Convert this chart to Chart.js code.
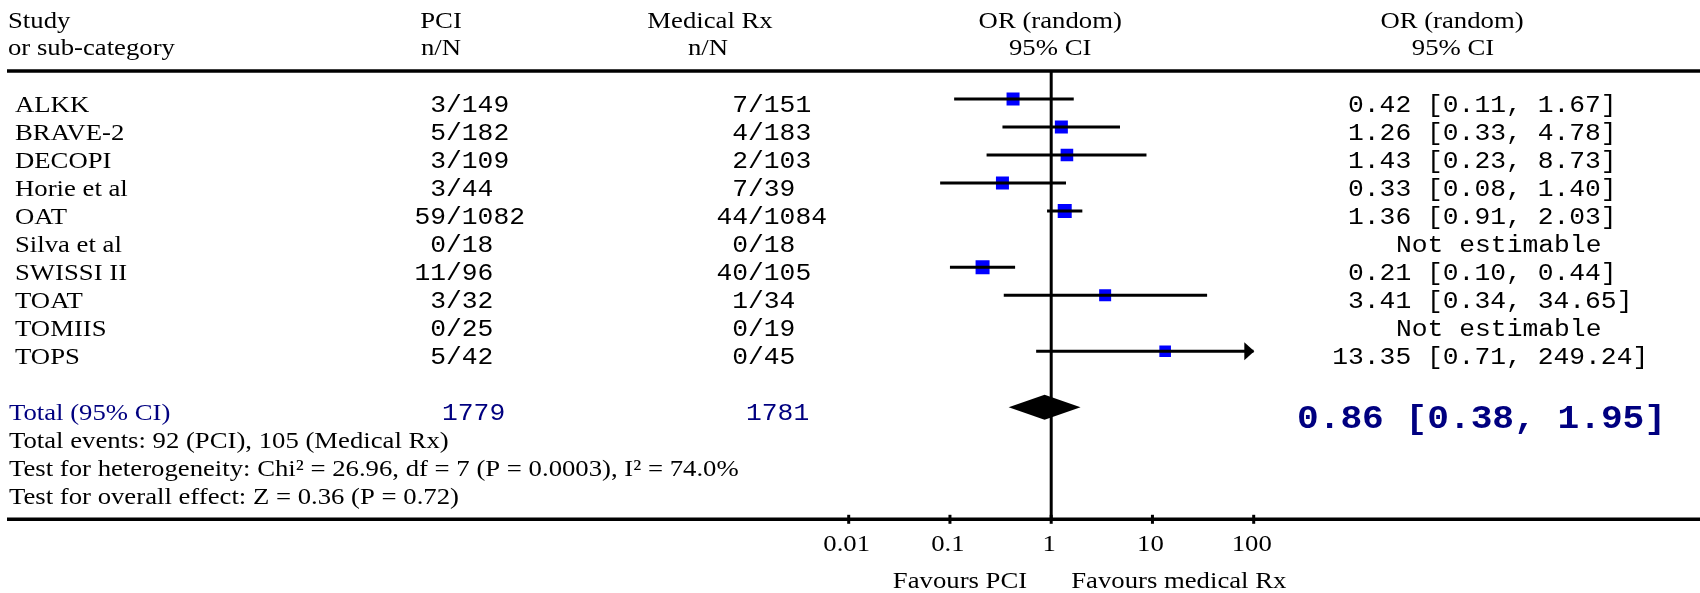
<!DOCTYPE html>
<html><head><meta charset="utf-8">
<script src="https://cdn.jsdelivr.net/npm/chart.js@4.4.1/dist/chart.umd.min.js"></script>
<style>html,body{margin:0;padding:0;background:#fff;}#wrap{width:1700px;height:593px;position:relative;}</style>
</head><body><div id="wrap"><canvas id="c" width="1700" height="593"></canvas></div>
<script>
// ---------------- DATA ----------------
const studies   = ['ALKK','BRAVE-2','DECOPI','Horie et al','OAT','Silva et al','SWISSI II','TOAT','TOMIIS','TOPS'];
const pciEvents = [3, 5, 3, 3, 59, 0, 11, 3, 0, 5];
const pciTotal  = [149, 182, 109, 44, 1082, 18, 96, 32, 25, 42];
const medEvents = [7, 4, 2, 7, 44, 0, 40, 1, 0, 0];
const medTotal  = [151, 183, 103, 39, 1084, 18, 105, 34, 19, 45];
const orValue   = [0.42, 1.26, 1.43, 0.33, 1.36, null, 0.21, 3.41, null, 13.35];
const ciLow     = [0.11, 0.33, 0.23, 0.08, 0.91, null, 0.10, 0.34, null, 0.71];
const ciHigh    = [1.67, 4.78, 8.73, 1.40, 2.03, null, 0.44, 34.65, null, 249.24];
const totalN    = [1779, 1781];
const totalOR   = 0.86, totalLow = 0.38, totalHigh = 1.95;
const tickValues = [0.01, 0.1, 1, 10, 100];
const tickLabels = ['0.01', '0.1', '1', '10', '100'];
const nullEffect = 1;
const footLines = [
  'Total events: 92 (PCI), 105 (Medical Rx)',
  'Test for heterogeneity: Chi\u00B2 = 26.96, df = 7 (P = 0.0003), I\u00B2 = 74.0%',
  'Test for overall effect: Z = 0.36 (P = 0.72)'
];

// ---------------- STYLE ----------------
const markerSide = [13, 13, 12.6, 13, 14, 0, 14, 12, 0, 11.6];
const SERIF = '23.5px "Liberation Serif", "Times New Roman", serif', SX_SERIF = 1.137;
const MONO = '23px "Liberation Mono", "Courier New", monospace', SX_MONO = 1.145;
const BOLD = 'bold 32.5px "Liberation Mono", "Courier New", monospace', SX_BOLD = 1.113;
const NAVY = '#000080';
const X_MIN = tickValues[0], X_MAX = tickValues[tickValues.length - 1];
const TOTAL_ROW = studies.length + 1;
const BOTTOM_ROW = TOTAL_ROW + footLines.length + 1;

function fmt(v){ return v.toFixed(2); }
function txt(ctx, s, x, y, font, color, align, sx){
  ctx.save(); ctx.translate(x, y); ctx.scale(sx, 1);
  ctx.font = font; ctx.fillStyle = color; ctx.textAlign = align; ctx.textBaseline = 'alphabetic';
  ctx.fillText(s, 0, 0); ctx.restore();
}

// ---------------- DATASETS ----------------
const datasets = [];
datasets.push({data:[{x:nullEffect,y:-1},{x:nullEffect,y:BOTTOM_ROW}], showLine:true, borderColor:'#000', borderWidth:3, pointRadius:0});
studies.forEach((s, i) => {
  if (orValue[i] == null) return;
  datasets.push({data:[{x:ciLow[i],y:i},{x:Math.min(ciHigh[i], X_MAX),y:i}], showLine:true,
    borderColor:'#000', borderWidth:3, pointRadius:0, borderCapStyle:'butt'});
});
datasets.push({
  data: studies.map((s, i) => orValue[i] == null ? null : {x:orValue[i], y:i, i:i}).filter(Boolean),
  pointStyle:'rect', backgroundColor:'#0000ff', borderWidth:0,
  pointRadius: c => (c.raw ? markerSide[c.raw.i] : 12) / Math.SQRT2
});

const forestPlugin = {
  id:'forest',
  afterDatasetsDraw(chart){
    const ctx = chart.ctx, xs = chart.scales.x, ys = chart.scales.y;
    const yc = ys.getPixelForValue(TOTAL_ROW);
    ctx.save(); ctx.fillStyle = '#000'; ctx.beginPath();
    ctx.moveTo(xs.getPixelForValue(totalLow), yc);
    ctx.lineTo(xs.getPixelForValue(totalOR), yc - 12.5);
    ctx.lineTo(xs.getPixelForValue(totalHigh), yc);
    ctx.lineTo(xs.getPixelForValue(totalOR), yc + 12.5);
    ctx.closePath(); ctx.fill(); ctx.restore();
    studies.forEach((s, i) => {
      if (ciHigh[i] != null && ciHigh[i] > X_MAX) {
        const xt = xs.getPixelForValue(X_MAX) + 0.6, y = ys.getPixelForValue(i);
        ctx.save(); ctx.fillStyle = '#000'; ctx.beginPath();
        ctx.moveTo(xt, y); ctx.lineTo(xt - 10, y - 9); ctx.lineTo(xt - 10, y + 9); ctx.closePath(); ctx.fill(); ctx.restore();
      }
    });
  },
  afterDraw(chart){
    const ctx = chart.ctx, xs = chart.scales.x, ys = chart.scales.y;
    const W = chart.width;
    const yTop = ys.getPixelForValue(-1), yBot = ys.getPixelForValue(BOTTOM_ROW);
    ctx.save(); ctx.strokeStyle = '#000'; ctx.lineWidth = 3.5;
    ctx.beginPath(); ctx.moveTo(7, yTop); ctx.lineTo(W, yTop); ctx.stroke();
    ctx.beginPath(); ctx.moveTo(7, yBot); ctx.lineTo(W, yBot); ctx.stroke();
    ctx.lineWidth = 3;
    tickValues.forEach(v => { const x = xs.getPixelForValue(v); ctx.beginPath(); ctx.moveTo(x, yBot - 4.5); ctx.lineTo(x, yBot + 4.5); ctx.stroke(); });
    ctx.restore();
    tickValues.forEach((v, k) => txt(ctx, tickLabels[k], xs.getPixelForValue(v) - 2, yBot + 32, SERIF, '#000', 'center', SX_SERIF));
    const x1 = xs.getPixelForValue(nullEffect);
    txt(ctx, 'Favours PCI', x1 - 24, yBot + 69, SERIF, '#000', 'right', SX_SERIF);
    txt(ctx, 'Favours medical Rx', x1 + 20, yBot + 69, SERIF, '#000', 'left', SX_SERIF);

    const h1 = ys.getPixelForValue(-3) + 13, h2 = ys.getPixelForValue(-2) + 12.5;
    txt(ctx, 'Study', 8, h1, SERIF, '#000', 'left', SX_SERIF);
    txt(ctx, 'or sub-category', 8, h2, SERIF, '#000', 'left', SX_SERIF);
    txt(ctx, 'PCI', 441, h1, SERIF, '#000', 'center', SX_SERIF);
    txt(ctx, 'n/N', 441, h2, SERIF, '#000', 'center', SX_SERIF);
    txt(ctx, 'Medical Rx', 710, h1, SERIF, '#000', 'center', SX_SERIF);
    txt(ctx, 'n/N', 708, h2, SERIF, '#000', 'center', SX_SERIF);
    txt(ctx, 'OR (random)', x1 - 1, h1, SERIF, '#000', 'center', SX_SERIF);
    txt(ctx, '95% CI', x1 - 1, h2, SERIF, '#000', 'center', SX_SERIF);
    txt(ctx, 'OR (random)', 1452, h1, SERIF, '#000', 'center', SX_SERIF);
    txt(ctx, '95% CI', 1453, h2, SERIF, '#000', 'center', SX_SERIF);

    studies.forEach((s, i) => {
      const b = ys.getPixelForValue(i) + 13;
      txt(ctx, s, 15, b, SERIF, '#000', 'left', SX_SERIF);
      txt(ctx, String(pciEvents[i]), 446, b, MONO, '#000', 'right', SX_MONO);
      txt(ctx, '/' + pciTotal[i], 446, b, MONO, '#000', 'left', SX_MONO);
      txt(ctx, String(medEvents[i]), 748, b, MONO, '#000', 'right', SX_MONO);
      txt(ctx, '/' + medTotal[i], 748, b, MONO, '#000', 'left', SX_MONO);
      if (orValue[i] == null) {
        txt(ctx, 'Not estimable', 1396, b, MONO, '#000', 'left', SX_MONO);
      } else {
        txt(ctx, fmt(orValue[i]) + ' ', 1427, b, MONO, '#000', 'right', SX_MONO);
        txt(ctx, '[' + fmt(ciLow[i]) + ', ' + fmt(ciHigh[i]) + ']', 1427, b, MONO, '#000', 'left', SX_MONO);
      }
    });
    const tb = ys.getPixelForValue(TOTAL_ROW) + 13;
    txt(ctx, 'Total (95% CI)', 9, tb, SERIF, NAVY, 'left', SX_SERIF);
    txt(ctx, String(totalN[0]), 442, tb, MONO, NAVY, 'left', SX_MONO);
    txt(ctx, String(totalN[1]), 746, tb, MONO, NAVY, 'left', SX_MONO);
    txt(ctx, fmt(totalOR) + ' [' + fmt(totalLow) + ', ' + fmt(totalHigh) + ']', 1297, tb + 8, BOLD, NAVY, 'left', SX_BOLD);
    footLines.forEach((l, k) => txt(ctx, l, 9, ys.getPixelForValue(TOTAL_ROW + 1 + k) + 13, SERIF, '#000', 'left', SX_SERIF));
  }
};

new Chart(document.getElementById('c'), {
  type:'scatter',
  data:{datasets},
  options:{
    responsive:false, animation:false, devicePixelRatio:1, events:[],
    layout:{padding:{left:848.7, right:446.3, top:71, bottom:73.7}},
    plugins:{legend:{display:false}, tooltip:{enabled:false}},
    scales:{
      x:{type:'logarithmic', min:X_MIN, max:X_MAX, display:false},
      y:{type:'linear', min:-1, max:BOTTOM_ROW, reverse:true, display:false}
    }
  },
  plugins:[forestPlugin]
});
</script></body></html>
